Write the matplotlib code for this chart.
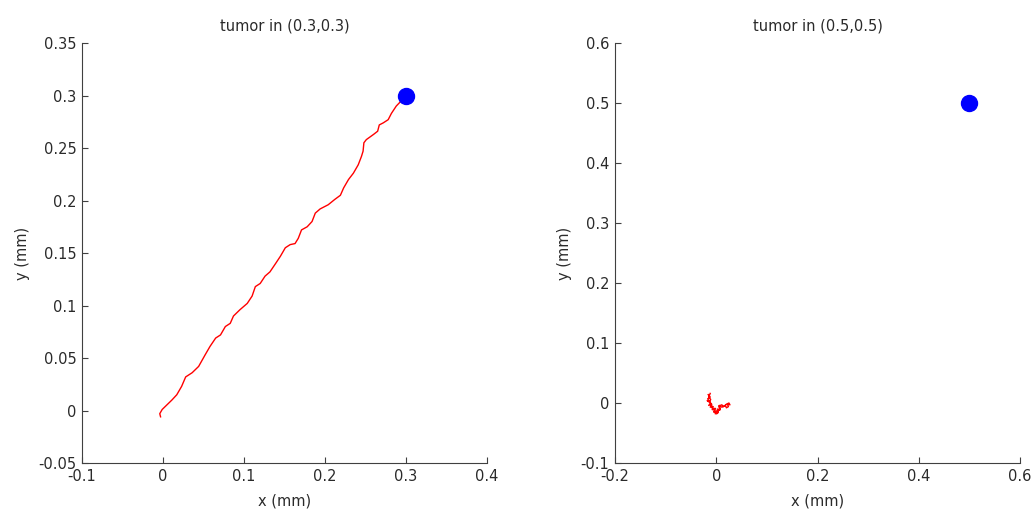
import numpy as np
import matplotlib
matplotlib.use("Agg")
import matplotlib.pyplot as plt

# walk towards the tumour at (0.3, 0.3)
path1_x = [-0.003, -0.004, -0.001, 0.003, 0.011, 0.017, 0.023, 0.028, 0.036, 0.044,
           0.052, 0.058, 0.065, 0.071, 0.077, 0.083, 0.087, 0.095, 0.104, 0.110,
           0.114, 0.120, 0.126, 0.132, 0.139, 0.145, 0.151, 0.157, 0.163, 0.167,
           0.171, 0.178, 0.184, 0.188, 0.194, 0.204, 0.212, 0.219, 0.223, 0.229,
           0.235, 0.241, 0.245, 0.247, 0.248, 0.251, 0.260, 0.265, 0.267, 0.272,
           0.278, 0.282, 0.288, 0.293, 0.299]
path1_y = [-0.006, -0.003, 0.001, 0.004, 0.010, 0.015, 0.023, 0.032, 0.036, 0.042,
           0.053, 0.061, 0.069, 0.072, 0.080, 0.083, 0.090, 0.096, 0.102, 0.109,
           0.118, 0.121, 0.128, 0.132, 0.140, 0.147, 0.155, 0.158, 0.159, 0.164,
           0.172, 0.175, 0.180, 0.188, 0.192, 0.196, 0.201, 0.205, 0.212, 0.220,
           0.226, 0.234, 0.242, 0.247, 0.255, 0.258, 0.263, 0.266, 0.272, 0.274,
           0.277, 0.283, 0.290, 0.294, 0.299]

# walk that stays near the origin, tumour at (0.5, 0.5)
path2_x = [-0.016, -0.012, -0.017, -0.013, -0.018, -0.011, -0.015, -0.009, -0.012, -0.006,
           -0.008, -0.003, -0.005, 0.001, -0.002, 0.004, 0.002, 0.007, 0.005, 0.011,
           0.014, 0.018, 0.020, 0.024, 0.022, 0.027, 0.025, 0.020, 0.016, 0.011,
           0.006, 0.008, 0.003, 0.001, -0.004, -0.002, -0.007, -0.009, -0.013, -0.011,
           -0.015, -0.012]
path2_y = [0.014, 0.010, 0.007, 0.002, 0.004, 0.000, -0.004, -0.002, -0.007, -0.006,
           -0.011, -0.009, -0.015, -0.013, -0.018, -0.016, -0.010, -0.012, -0.005, -0.003,
           -0.006, -0.004, -0.008, -0.006, -0.002, -0.003, 0.000, -0.002, -0.005, -0.007,
           -0.004, -0.010, -0.013, -0.018, -0.015, -0.009, -0.011, -0.004, 0.002, 0.006,
           0.010, 0.016]

tumors = [(0.3, 0.3), (0.5, 0.5)]
paths = [(path1_x, path1_y), (path2_x, path2_y)]
xlims = [(-0.1, 0.4), (-0.2, 0.6)]
ylims = [(-0.05, 0.35), (-0.1, 0.6)]
xticks = [[-0.1, 0, 0.1, 0.2, 0.3, 0.4], [-0.2, 0, 0.2, 0.4, 0.6]]
yticks = [[-0.05, 0, 0.05, 0.1, 0.15, 0.2, 0.25, 0.3, 0.35],
          [-0.1, 0, 0.1, 0.2, 0.3, 0.4, 0.5, 0.6]]

plt.rcParams['font.family'] = ['DejaVu Sans']
ink = '#2a2a2a'

fig = plt.figure(figsize=(10.34, 5.14), dpi=100)
positions = [[0.0793, 0.0992, 0.3917, 0.8171], [0.5948, 0.0992, 0.3917, 0.8171]]

for i in range(2):
    ax = fig.add_axes(positions[i])
    px, py = paths[i]
    ax.plot(px, py, color='red', lw=1.0)
    tx, ty = tumors[i]
    ax.plot([tx], [ty], 'o', color='#0000ff', ms=11.5)
    ax.set_xlim(*xlims[i])
    ax.set_ylim(*ylims[i])
    ax.set_xticks(xticks[i])
    ax.set_yticks(yticks[i])
    ax.set_xticklabels([f"{v:g}" for v in xticks[i]])
    ax.set_yticklabels([f"{v:g}" for v in yticks[i]])
    for s in ['top', 'right']:
        ax.spines[s].set_visible(False)
    for s in ['left', 'bottom']:
        ax.spines[s].set_color('#404040')
        ax.spines[s].set_linewidth(0.8)
    ax.tick_params(direction='in', length=4, width=0.8, color='#404040',
                   labelcolor=ink, labelsize=10.5, pad=4)
    ax.set_xlabel('x (mm)', fontsize=10.5, color=ink, labelpad=7)
    ax.set_ylabel('y (mm)', fontsize=10.5, color=ink, labelpad=6)
    ax.set_title(f"tumor in ({tx:g},{ty:g})", fontsize=10.5, color=ink, pad=9)

fig.savefig('out.png', dpi=100, facecolor='white')
